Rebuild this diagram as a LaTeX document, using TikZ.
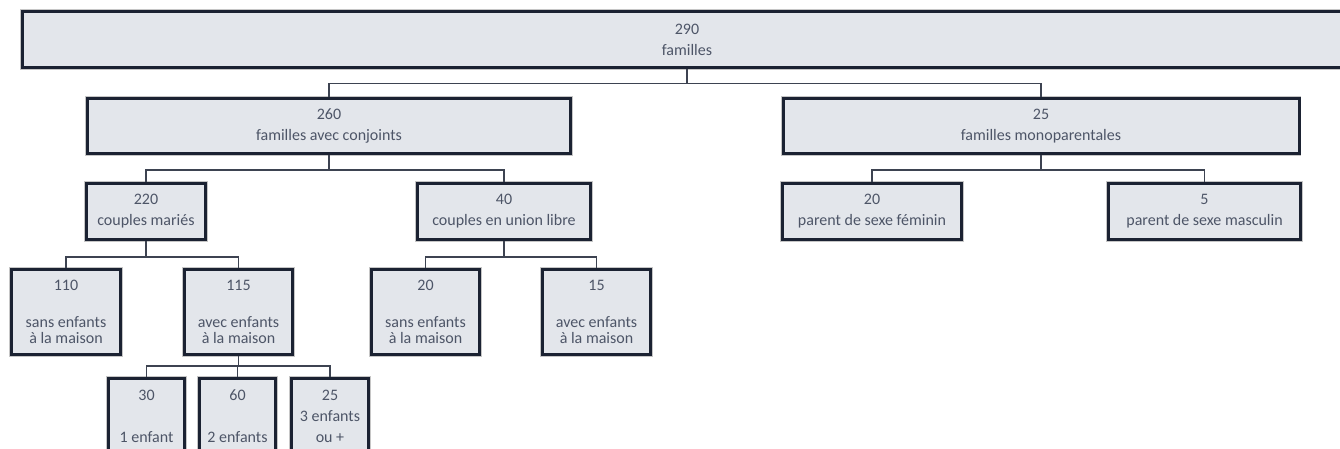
\documentclass[tikz,border=0pt]{standalone}
\usepackage{fontspec}
\setmainfont{Carlito}
\definecolor{boxfill}{HTML}{E3E6EB}
\definecolor{boxline}{HTML}{1B2232}
\definecolor{boxtext}{HTML}{4D5567}
\tikzset{
        x=1pt, y=-1pt,
        box/.style={rectangle, fill=boxfill, draw=boxline, line width=3pt,
          preaction={draw=gray!45, line width=4.6pt}, text=boxtext, align=center,
          inner sep=0pt, font=\fontsize{16}{21}\selectfont},
        sz/.style 2 args={minimum width=#1pt, minimum height=#2pt},
        link/.style={draw=boxline!85!white, line width=1.3pt}
          }
\begin{document}
\begin{tikzpicture}
            \useasboundingbox (0,0) rectangle (1340,449);
            % top level
            \node[box, sz={1329}{56}] (tot) at (687,39.5) {290\\familles};
            \node[box, sz={483}{55}] (conj) at (329,126) {260\\familles avec conjoints};
            \node[box, sz={516}{55}] (mono) at (1041,126) {25\\familles monoparentales};
            % couples
            \node[box, sz={119}{56}] (maries) at (146,211.5) {220\\couples mariés};
            \node[box, sz={173}{56}] (union) at (504,211.5) {40\\couples en union libre};
            \node[box, sz={179}{56}] (fem) at (872,211.5) {20\\parent de sexe féminin};
            \node[box, sz={192}{56}] (masc) at (1204.5,211.5) {5\\parent de sexe masculin};
            % enfants
            \node[box, sz={109}{85}] (sans1) at (66,312) {110\\[16pt]sans enfants\\[-5pt]à la maison};
            \node[box, sz={108}{85}] (avec1) at (238.5,312) {115\\[16pt]avec enfants\\[-5pt]à la maison};
            \node[box, sz={108}{85}] (sans2) at (425.5,312) {20\\[16pt]sans enfants\\[-5pt]à la maison};
            \node[box, sz={108}{85}] (avec2) at (596.5,312) {15\\[16pt]avec enfants\\[-5pt]à la maison};
            \node[box, sz={76}{75}] (un) at (146.5,416) {30\\[21pt]1 enfant};
            \node[box, sz={76}{75}] (deux) at (237.5,416) {60\\[21pt]2 enfants};
            \node[box, sz={77}{75}] (trois) at (330,416) {25\\3 enfants\\ou +};
            % connectors
            \foreach \p/\c/\h in {tot/conj/14.5, tot/mono/14.5, conj/maries/15, conj/union/15,
                mono/fem/15, mono/masc/15, maries/sans1/16, maries/avec1/16,
                union/sans2/16, union/avec2/16, avec1/un/10, avec1/deux/10, avec1/trois/10}
              \draw[link] (\p.south) -- ++(0,\h) -| (\c.north);
          \end{tikzpicture}
\end{document}
